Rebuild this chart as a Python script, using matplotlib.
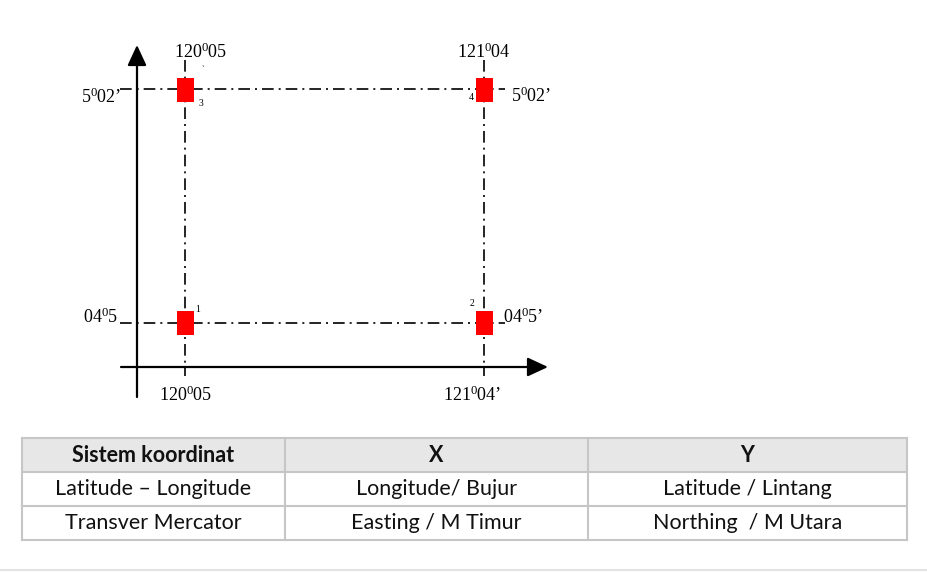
import matplotlib
matplotlib.use("Agg")
import matplotlib.pyplot as plt
from matplotlib.patches import Rectangle

plt.rcParams['mathtext.fontset'] = 'custom'
plt.rcParams['mathtext.rm'] = 'Liberation Serif'
plt.rcParams['mathtext.it'] = 'Liberation Serif'

# ---------------- data ----------------
lon_labels_top = ["120$^{0}$05", "121$^{0}$04"]
lon_labels_bottom = ["120$^{0}$05", "121$^{0}$04\u2019"]
lat_labels_left = ["04$^{0}$5", "5$^{0}$02\u2019"]
lat_labels_right = ["04$^{0}$5\u2019", "5$^{0}$02\u2019"]
point_x = [0, 1, 0, 1]          # longitude index
point_y = [0, 0, 1, 1]          # latitude index
point_ids = ["1", "2", "3", "4"]

table_header = ["Sistem koordinat", "X", "Y"]
table_rows = [
    ["Latitude \u2013 Longitude", "Longitude/ Bujur", "Latitude / Lintang"],
    ["Transver Mercator", "Easting / M Timur", "Northing  / M Utara"],
]

W, H = 927, 572
fig = plt.figure(figsize=(W / 100, H / 100), dpi=100)

# full-figure pixel axes for table & separator
axf = fig.add_axes([0, 0, 1, 1])
axf.set_xlim(0, W)
axf.set_ylim(H, 0)
axf.axis('off')

# diagram axes: x=0 -> px 185, x=1 -> px 484 ; y=0 -> px 322.5, y=1 -> px 89.5
X0, X1 = 185.0, 484.0
Y0, Y1 = 322.5, 89.5
sx = X1 - X0
sy = Y0 - Y1
L, R, T, B = 70, 580, 30, 415
ax = fig.add_axes([L / W, 1 - B / H, (R - L) / W, (B - T) / H])
ax.set_xlim((L - X0) / sx, (R - X0) / sx)
ax.set_ylim((Y0 - B) / sy, (Y0 - T) / sy)
ax.axis('off')


def dx(px):
    return (px - X0) / sx


def dy(py):
    return (Y0 - py) / sy


# axes arrows
ax.annotate('', xy=(dx(137), dy(45)), xytext=(dx(137), dy(397)),
            arrowprops=dict(arrowstyle='-|>,head_length=1.25,head_width=0.58',
                            mutation_scale=10, lw=1.6, color='black',
                            shrinkA=0, shrinkB=0))
ax.annotate('', xy=(dx(548), dy(367)), xytext=(dx(121), dy(367)),
            arrowprops=dict(arrowstyle='-|>,head_length=1.25,head_width=0.58',
                            mutation_scale=10, lw=1.6, color='black',
                            shrinkA=0, shrinkB=0))

dash = (0, (7, 3, 1.2, 3))
xs = sorted(set(point_x))
ys = sorted(set(point_y))
for yv in ys:
    ax.plot([dx(120), dx(505)], [yv, yv], color='black', lw=1.2, linestyle=dash)
for xv in xs:
    ax.plot([xv, xv], [dy(60), dy(376)], color='black', lw=1.2, linestyle=dash)

rw = 17 / sx
rh = 24 / sy
for x, y in zip(point_x, point_y):
    ax.add_patch(Rectangle((x - rw / 2, y - rh / 2), rw, rh,
                           facecolor='#ff0000', edgecolor='none', zorder=5))

serif = 'Liberation Serif'
fs = 13
# top longitude labels
ax.text(dx(201), dy(52), lon_labels_top[0], ha='center', va='center',
        fontsize=fs, family=serif)
ax.text(dx(484), dy(52), lon_labels_top[1], ha='center', va='center',
        fontsize=fs, family=serif)
ax.text(dx(203), dy(70), '`', ha='center', va='center', fontsize=6, family=serif)
# bottom longitude labels
ax.text(dx(186), dy(395), lon_labels_bottom[0], ha='center', va='center',
        fontsize=fs, family=serif)
ax.text(dx(472), dy(395), lon_labels_bottom[1], ha='center', va='center',
        fontsize=fs, family=serif)
# left latitude labels
ax.text(dx(118), dy(317), lat_labels_left[0], ha='right', va='center',
        fontsize=fs, family=serif)
ax.text(dx(121), dy(97), lat_labels_left[1], ha='right', va='center',
        fontsize=fs, family=serif)
# right latitude labels
ax.text(dx(503), dy(317), lat_labels_right[0], ha='left', va='center',
        fontsize=fs, family=serif)
ax.text(dx(511), dy(96), lat_labels_right[1], ha='left', va='center',
        fontsize=fs, family=serif)

# point ids
id_pos = {"1": (198, 309), "2": (472, 304), "3": (201, 103), "4": (471, 98)}
for pid in point_ids:
    px, py = id_pos[pid]
    ax.text(dx(px), dy(py), pid, ha='center', va='center', fontsize=7,
            family=serif)

# ---------------- table ----------------
col_edges = [22, 285, 588, 907]
row_edges = [438, 472, 506, 540]
bc = '#c6c6c6'
axf.add_patch(Rectangle((col_edges[0], row_edges[0]),
                        col_edges[-1] - col_edges[0], row_edges[1] - row_edges[0],
                        facecolor='#e7e7e7', edgecolor='none'))
for yv in row_edges:
    axf.plot([col_edges[0], col_edges[-1]], [yv, yv], color=bc, lw=1.5)
for xv in col_edges:
    axf.plot([xv, xv], [row_edges[0], row_edges[-1]], color=bc, lw=1.5)

tfont = 'Lato'
tfs = 15.5
rows = [table_header] + table_rows
for ri, row in enumerate(rows):
    yc = (row_edges[ri] + row_edges[ri + 1]) / 2
    for ci, txt in enumerate(row):
        xc = (col_edges[ci] + col_edges[ci + 1]) / 2
        axf.text(xc, yc, txt, ha='center', va='center', fontsize=tfs,
                 family=tfont, fontweight='bold' if ri == 0 else 'normal',
                 color='#111111')

# bottom separator
axf.plot([0, W], [569.5, 569.5], color='#e2e2e2', lw=1.5)

fig.savefig('out.png', dpi=100)
